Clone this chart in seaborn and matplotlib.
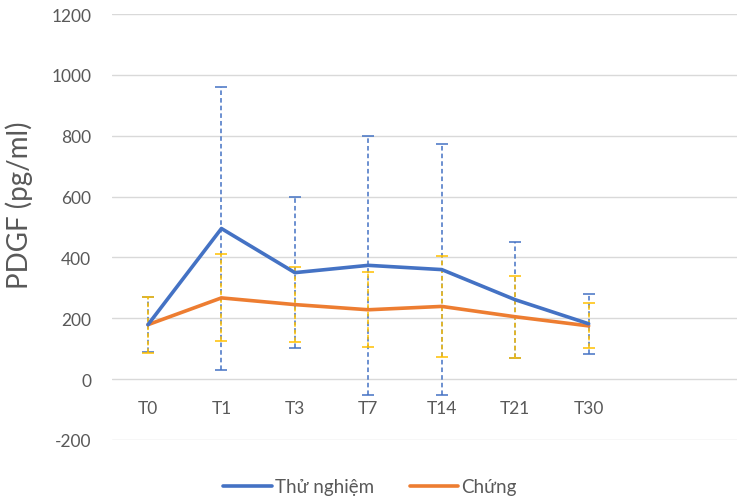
import numpy as np
import pandas as pd
import seaborn as sns
import matplotlib
matplotlib.use("Agg")
import matplotlib.pyplot as plt

# Time points and PDGF means / standard deviations (pg/ml)
timepoints = ["T0", "T1", "T3", "T7", "T14", "T21", "T30"]
trial_mean = [179, 495, 350, 374, 360, 261, 182]
trial_sd = [90, 465, 247, 426, 412, 190, 99]
control_mean = [179, 267, 245, 228, 239, 205, 175]
control_sd = [92, 143, 122, 124, 165, 135, 74]
series_names = ["Thử nghiệm", "Chứng"]

sns.set_theme(style="white")
plt.rcParams["font.family"] = ["Lato", "DejaVu Sans"]
plt.rcParams["axes.unicode_minus"] = False

df = pd.DataFrame({
    "time": list(range(len(timepoints))) * 2,
    "value": trial_mean + control_mean,
    "group": [series_names[0]] * len(timepoints) + [series_names[1]] * len(timepoints),
})

line_colors = {series_names[0]: "#4472C4", series_names[1]: "#ED7D31"}
err_colors = {series_names[0]: "#4472C4", series_names[1]: "#FFC000"}

fig = plt.figure(figsize=(7.37, 5.02), dpi=100)
ax = fig.add_axes([112 / 737, (502 - 441) / 502, 1 - 112 / 737, (441 - 15) / 502])

x = np.arange(len(timepoints))
# dashed error bars, trial first so control bars sit above
for name, mean, sd, z in [(series_names[0], trial_mean, trial_sd, 2),
                          (series_names[1], control_mean, control_sd, 3)]:
    eb = ax.errorbar(x, mean, yerr=sd, fmt="none", ecolor=err_colors[name],
                     elinewidth=1.1, capsize=4, capthick=1.1, zorder=z)
    for lc in eb[2]:
        lc.set_linestyle((0, (3, 2)))

sns.lineplot(data=df[df.group == series_names[1]], x="time", y="value",
             color=line_colors[series_names[1]], linewidth=2.6, ax=ax, zorder=4,
             label=series_names[1], legend=False)
sns.lineplot(data=df[df.group == series_names[0]], x="time", y="value",
             color=line_colors[series_names[0]], linewidth=2.6, ax=ax, zorder=5,
             label=series_names[0], legend=False)

ax.set_ylim(-200, 1200)
ax.set_xlim(-0.49, 8.02)
ax.set_yticks(np.arange(-200, 1201, 200))
ax.yaxis.grid(True, color="#D9D9D9", linewidth=1.0)
ax.set_axisbelow(True)
for s in ax.spines.values():
    s.set_visible(False)

ax.set_xticks(x)
ax.set_xticklabels(timepoints)
ax.spines["bottom"].set_position(("data", 0))
ax.tick_params(axis="x", length=0, pad=15, labelsize=12.5, labelcolor="#595959")
ax.tick_params(axis="y", length=0, pad=15, labelsize=12.5, labelcolor="#595959")
ax.set_xlabel("")
ax.set_ylabel("PDGF (pg/ml)", fontsize=20, color="#595959")
ax.yaxis.set_label_coords(-0.127, (441 - 205) / 426)

handles, labels = ax.get_legend_handles_labels()
order = [labels.index(series_names[0]), labels.index(series_names[1])]
fig.legend([handles[i] for i in order], [labels[i] for i in order],
           loc="center", bbox_to_anchor=(370 / 737, 1 - 488 / 502), ncol=2,
           frameon=False, fontsize=13.5, handlelength=2.6, handletextpad=0.15,
           columnspacing=1.9, labelcolor="#595959")

fig.savefig("out.png", dpi=100)
